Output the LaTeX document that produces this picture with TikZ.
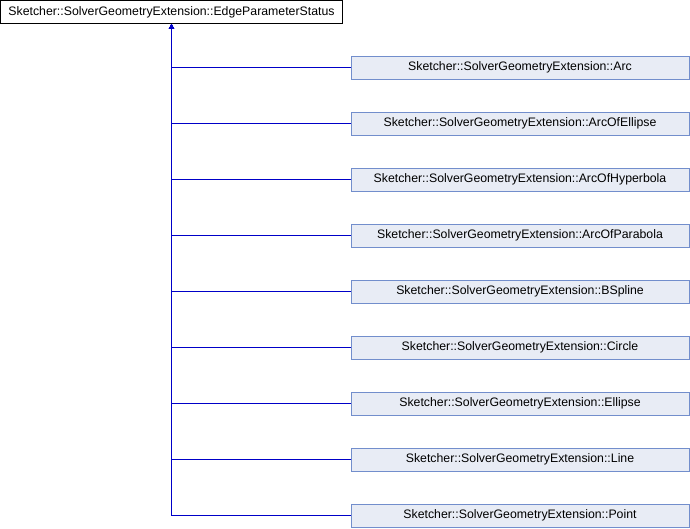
\documentclass[tikz,border=0pt]{standalone}
\usepackage{fontspec}
\setmainfont{Liberation Sans}
\usetikzlibrary{arrows.meta,positioning}

\definecolor{edgeblue}{RGB}{0,0,200}
\definecolor{boxfill}{RGB}{232,236,245}
\definecolor{boxline}{RGB}{114,142,204}

\begin{document}
\begin{tikzpicture}[x=1pt,y=-1pt,node distance=32.1pt,
	                    font=\fontsize{12.3}{14}\selectfont]
		  \tikzstyle{base}=[draw=black,fill=white,line width=0.9pt,minimum width=342pt,minimum height=23pt,inner sep=0pt]
		  \tikzstyle{derived}=[draw=boxline,fill=boxfill,line width=0.9pt,minimum width=338pt,minimum height=23pt,inner sep=0pt]
		  \tikzstyle{inherit}=[draw=edgeblue,line width=1.5pt,-{Triangle[length=5pt,width=5pt]}]

		  \useasboundingbox (0,0) rectangle (690,528);

		  \node[base]    (EPS) at (171.5,12)        {Sketcher::SolverGeometryExtension::EdgeParameterStatus};
		  \node[derived] (Arc) at (520,67.5)        {Sketcher::SolverGeometryExtension::Arc};
		  \node[derived] (AoE) [below=of Arc]       {Sketcher::SolverGeometryExtension::ArcOfEllipse};
		  \node[derived] (AoH) [below=of AoE]       {Sketcher::SolverGeometryExtension::ArcOfHyperbola};
		  \node[derived] (AoP) [below=of AoH]       {Sketcher::SolverGeometryExtension::ArcOfParabola};
		  \node[derived] (BSp) [below=of AoP]       {Sketcher::SolverGeometryExtension::BSpline};
		  \node[derived] (Cir) [below=of BSp]       {Sketcher::SolverGeometryExtension::Circle};
		  \node[derived] (Ell) [below=of Cir]       {Sketcher::SolverGeometryExtension::Ellipse};
		  \node[derived] (Lin) [below=of Ell]       {Sketcher::SolverGeometryExtension::Line};
		  \node[derived] (Pnt) [below=of Lin]       {Sketcher::SolverGeometryExtension::Point};

		  \foreach \c in {Arc,AoE,AoH,AoP,BSp,Cir,Ell,Lin,Pnt}
		    \draw[inherit] (\c.west) -| (EPS.south);
		\end{tikzpicture}
\end{document}
